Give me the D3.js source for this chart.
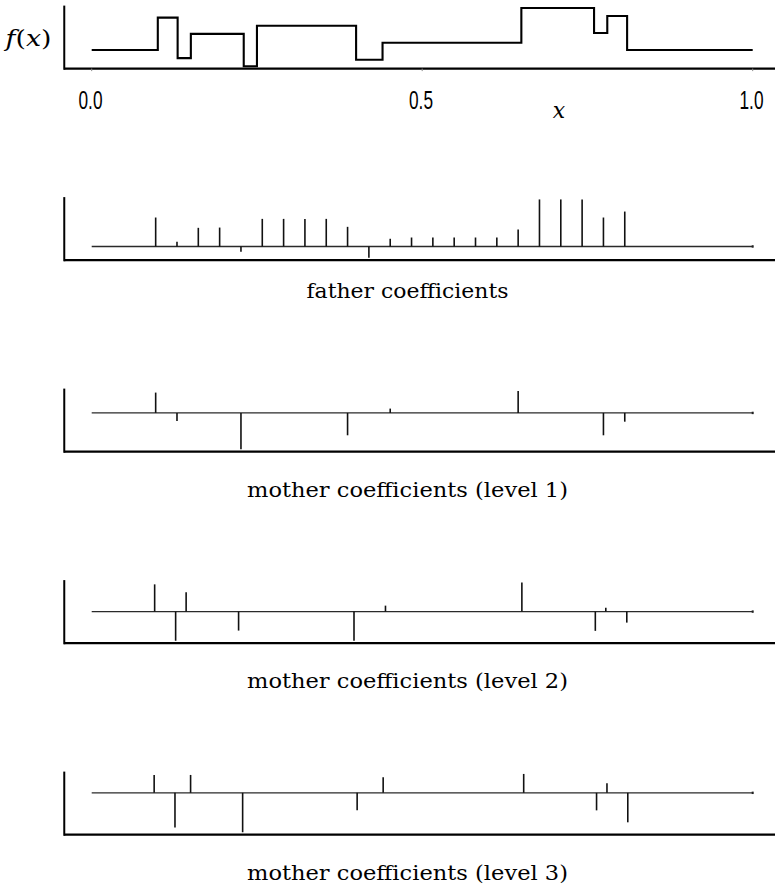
<!DOCTYPE html>
<html>
<head>
<meta charset="utf-8">
<script src="https://cdn.jsdelivr.net/npm/d3@7"></script>
<style>
  html, body { margin: 0; padding: 0; background: #fff; }
  svg { display: block; }
</style>
</head>
<body>
<svg id="chart" width="775" height="886"></svg>
<script>
// ---------- data ----------
// step function f(x): breakpoints and level on each interval
const fBreaks = [0, 0.10, 0.13, 0.15, 0.23, 0.25, 0.40, 0.44, 0.65, 0.76, 0.78, 0.81, 1.0];
const fLevels = [0, 4.0, -1.0, 2.0, -2.0, 3.0, -1.2, 0.9, 5.2, 2.1, 4.2, 0];
const xTicks = [0, 0.5, 1];
const xTickLabels = ["0.0", "0.5", "1.0"];

// father coefficients (32)
const fatherValues = [0, 0, 0, 3.2, 0.52, 2.06, 2.09, -0.58, 3.05, 3.05, 3.05, 3.05, 2.17, -1.25, 0.85,
  0.99, 0.99, 0.99, 0.99, 0.99, 1.87, 5.2, 5.2, 5.2, 3.2, 3.86, 0, 0, 0, 0, 0, 0];

// mother coefficients (non-zero entries only)
const mother1N = 32;
const mother1Index = [3, 4, 7, 12, 14, 20, 24, 25];
const mother1Value = [1.6, -0.63, -2.86, -1.76, 0.34, 1.73, -1.76, -0.69];

const mother2N = 64;
const mother2Index = [6, 8, 9, 14, 25, 28, 41, 48, 49, 51];
const mother2Value = [2.97, -3.18, 2.1, -2.07, -3.18, 0.65, 3.18, -2.1, 0.43, -1.2];

const mother3N = 128;
const mother3Index = [12, 16, 19, 29, 51, 56, 83, 97, 99, 103];
const mother3Value = [1.96, -3.8, 1.96, -4.32, -1.92, 1.71, 2.07, -1.92, 1.05, -3.23];

const captions = ["father coefficients", "mother coefficients (level 1)",
  "mother coefficients (level 2)", "mother coefficients (level 3)"];

// ---------- layout ----------
const svg = d3.select("#chart");
const X0 = 91.7, X1 = 752.7;          // data range ends in pixels
const panelTop0 = 5.6, panelStep = 191.5, panelH = 63;
const serif = "'DejaVu Serif', 'Liberation Serif', serif";

function pad(domain) {
  const r = domain[1] - domain[0];
  return [domain[0] - 0.04 * r, domain[1] + 0.04 * r];
}

function frame(g, x, y) {
  const xr = x.range(), yr = y.range();
  g.append("line").attr("x1", xr[0] - 1).attr("x2", 780)
    .attr("y1", yr[0]).attr("y2", yr[0])
    .attr("stroke", "#000").attr("stroke-width", 2.4);
  g.append("line").attr("x1", xr[0] - 1).attr("x2", xr[0] - 1)
    .attr("y1", yr[1]).attr("y2", yr[0] + 1.2)
    .attr("stroke", "#000").attr("stroke-width", 2);
}

// ---------- top panel: f(x) ----------
{
  const top = panelTop0;
  const span = X1 - X0;
  const x = d3.scaleLinear().domain(pad([0, 1]))
    .range([X0 - 0.04 * span, X1 + 0.04 * span]);
  const y = d3.scaleLinear().domain(pad(d3.extent(fLevels)))
    .range([top + panelH, top]);
  const g = svg.append("g");
  frame(g, x, y);

  const pts = fLevels.map((v, i) => [fBreaks[i], v]);
  pts.push([fBreaks[fBreaks.length - 1], fLevels[fLevels.length - 1]]);
  g.append("path")
    .attr("d", d3.line().x(d => x(d[0])).y(d => y(d[1])).curve(d3.curveStepAfter)(pts))
    .attr("fill", "none").attr("stroke", "#000").attr("stroke-width", 2.1)
    .attr("stroke-linejoin", "miter");

  g.selectAll(".xt").data(xTicks).enter().append("line")
    .attr("x1", d => x(d)).attr("x2", d => x(d))
    .attr("y1", top + panelH).attr("y2", top + panelH + 2.5)
    .attr("stroke", "#888").attr("stroke-width", 1);

  g.selectAll(".xl").data(xTicks).enter().append("text")
    .attr("x", d => x(d) - 1.2).attr("y", 109.3)
    .attr("text-anchor", "middle")
    .attr("font-family", "'Liberation Sans Narrow', 'Arial Narrow', 'Liberation Sans', sans-serif")
    .attr("font-size", 25.5)
    .attr("textLength", 24).attr("lengthAdjust", "spacingAndGlyphs")
    .text((d, i) => xTickLabels[i]);

  g.append("text").attr("x", 559).attr("y", 118)
    .attr("text-anchor", "middle")
    .attr("font-family", serif)
    .attr("font-style", "italic").attr("font-size", 22)
    .text("x");

  const fx = g.append("text").attr("x", 28.5).attr("y", 45.5)
    .attr("text-anchor", "middle")
    .attr("font-family", serif)
    .attr("font-size", 22)
    .attr("textLength", 46).attr("lengthAdjust", "spacingAndGlyphs");
  fx.append("tspan").attr("font-style", "italic").text("f");
  fx.append("tspan").text("(");
  fx.append("tspan").attr("font-style", "italic").text("x");
  fx.append("tspan").text(")");
}

// ---------- stem panels ----------
function stemPanel(idx, n, indices, values) {
  const top = panelTop0 + (idx + 1) * panelStep;
  const span = X1 - X0;
  const x = d3.scaleLinear().domain(pad([0, n - 1]))
    .range([X0 - 0.04 * span, X1 + 0.04 * span]);
  const y = d3.scaleLinear().domain(pad(d3.extent(values.concat([0]))))
    .range([top + panelH, top]);
  const g = svg.append("g");
  frame(g, x, y);

  // baseline
  g.append("line").attr("x1", x(0)).attr("x2", x(n - 1))
    .attr("y1", y(0)).attr("y2", y(0))
    .attr("stroke", "#2a2a2a").attr("stroke-width", 1.4);
  g.append("rect").attr("x", x(n - 1) - 1).attr("y", y(0) - 1.2)
    .attr("width", 2).attr("height", 2.4).attr("fill", "#222");

  // stems
  g.selectAll(".stem").data(indices.map((k, i) => ({k, v: values[i]}))
      .filter(d => d.v !== 0))
    .enter().append("line")
    .attr("x1", d => x(d.k)).attr("x2", d => x(d.k))
    .attr("y1", y(0)).attr("y2", d => y(d.v))
    .attr("stroke", "#111").attr("stroke-width", 1.6);

  const isFather = idx === 0;
  g.append("text")
    .attr("x", 407.5).attr("y", top + panelH + (isFather ? 38 : 45))
    .attr("text-anchor", "middle")
    .attr("font-family", serif)
    .attr("font-size", 20)
    .attr("textLength", isFather ? 202 : 321).attr("lengthAdjust", "spacingAndGlyphs")
    .text(captions[idx]);
}

stemPanel(0, fatherValues.length, d3.range(fatherValues.length), fatherValues);
stemPanel(1, mother1N, mother1Index, mother1Value);
stemPanel(2, mother2N, mother2Index, mother2Value);
stemPanel(3, mother3N, mother3Index, mother3Value);
</script>
</body>
</html>
